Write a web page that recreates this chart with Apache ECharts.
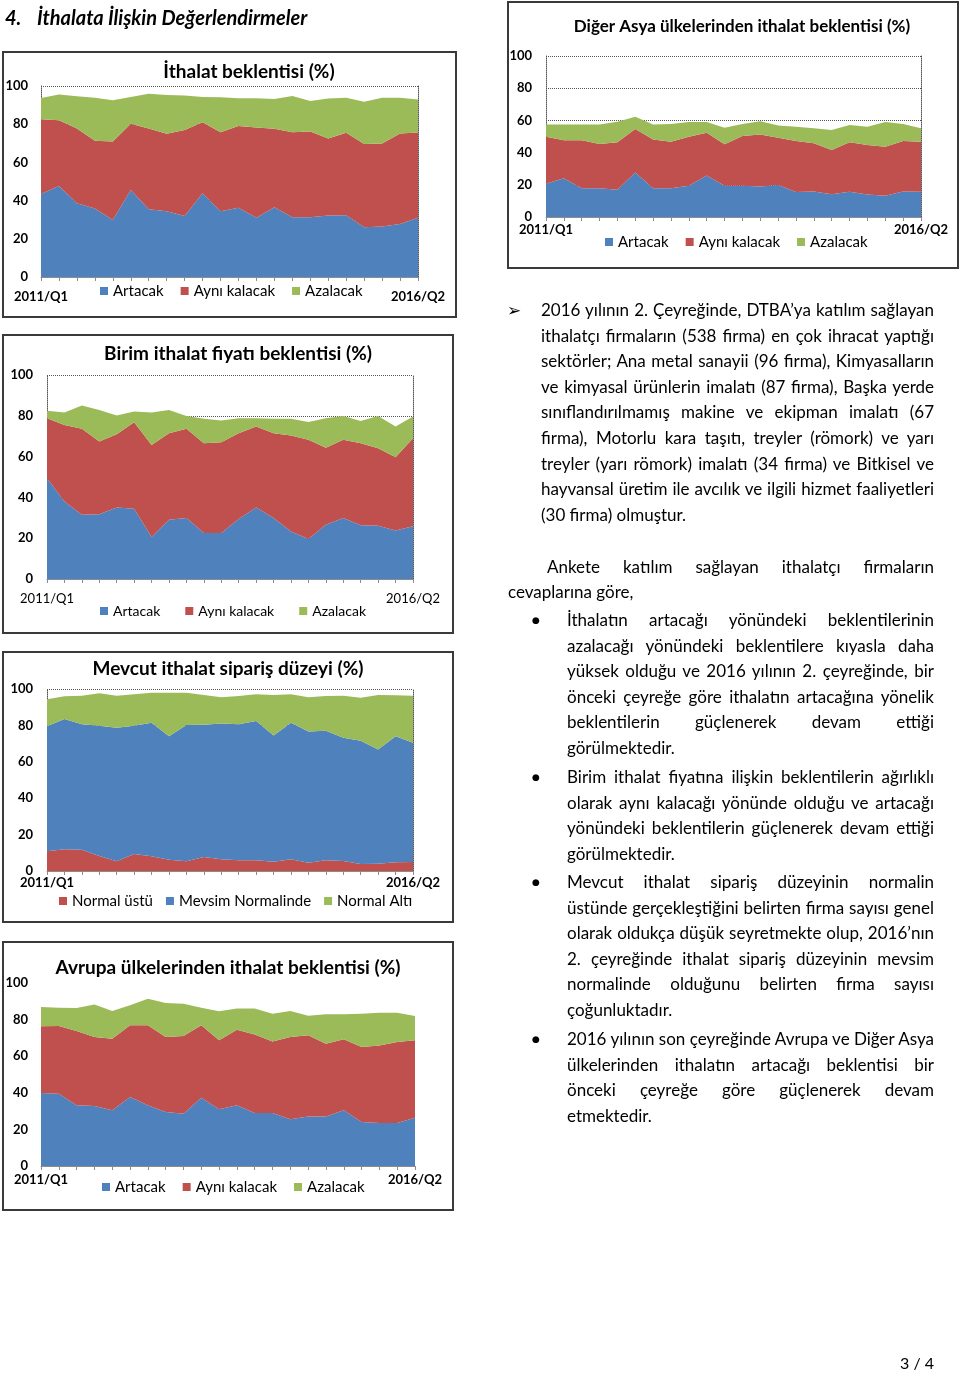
<!DOCTYPE html>
<html>
<head>
<meta charset="utf-8">
<script src="https://cdn.jsdelivr.net/npm/echarts/dist/echarts.min.js"></script>
<style>
  html, body { margin:0; padding:0; background:#fff; }
  #page { position:relative; width:960px; height:1373px; overflow:hidden; }
  #chart { position:absolute; left:0; top:0; width:960px; height:1373px; }
  .ln { position:absolute; height:26px; line-height:26px; white-space:nowrap;
        font-family: Lato, 'Open Sans', sans-serif; font-size:17px; color:#000; }
  .hd { position:absolute; white-space:nowrap; font-family: Lato, sans-serif;
        font-weight:bold; font-style:italic; font-size:20px; color:#000; line-height:22px; }
</style>
</head>
<body>
<div id="page">
  <div id="chart"></div>
</div>
<script>
// ---------------- DATA ----------------
const categories = ['2011/Q1','2011/Q2','2011/Q3','2011/Q4','2012/Q1','2012/Q2','2012/Q3','2012/Q4',
  '2013/Q1','2013/Q2','2013/Q3','2013/Q4','2014/Q1','2014/Q2','2014/Q3','2014/Q4',
  '2015/Q1','2015/Q2','2015/Q3','2015/Q4','2016/Q1','2016/Q2'];
const yTicks = [0, 20, 40, 60, 80, 100];

// İthalat beklentisi (%)
const ithalatArtacak  = [43.5,47.7,38.6,35.8,29.9,45.6,35.5,34.4,32.0,43.8,34.4,36.2,31.0,36.5,31.3,31.3,32.2,32.3,26.0,26.4,27.8,31.0];
const ithalatAyni     = [39.1,34.4,39.1,35.5,41.1,34.7,42.2,40.6,44.9,37.2,41.4,42.9,47.3,41.1,44.5,44.9,40.3,43.2,43.6,43.5,47.3,44.7];
const ithalatAzalacak = [11.1,13.4,16.9,22.6,21.5,14.0,18.3,20.3,18.1,13.3,18.3,14.5,15.3,15.6,19.0,16.0,20.9,18.4,22.1,24.0,18.8,17.2];

// Birim ithalat fiyatı beklentisi (%)
const fiyatArtacak  = [49.4,38.0,31.5,31.8,35.1,34.4,20.6,29.0,29.9,22.5,22.5,29.4,35.1,29.9,23.3,19.6,26.6,29.9,26.3,26.1,23.8,25.8];
const fiyatAyni     = [29.4,37.5,42.1,35.6,35.9,42.4,45.1,42.5,43.7,44.1,44.5,42.1,39.6,41.6,47.0,48.6,37.7,38.3,40.3,38.0,35.9,43.2];
const fiyatAzalacak = [3.7,6.1,11.4,15.5,9.1,5.3,15.9,11.4,6.3,11.9,10.7,7.3,4.1,7.0,8.2,8.8,14.5,11.7,10.9,15.8,15.0,10.6];

// Mevcut ithalat sipariş düzeyi (%)
const siparisNormalUstu = [10.8,11.9,11.7,8.3,5.3,9.4,8.1,6.2,5.3,7.7,6.4,5.9,5.9,5.1,6.4,4.6,5.9,5.5,3.9,4.0,4.8,5.0];
const siparisMevsim     = [68.8,71.6,69.0,71.5,73.4,70.4,73.4,67.9,74.9,72.7,74.7,74.7,76.5,69.4,75.1,72.1,71.2,67.7,67.7,62.8,69.3,65.5];
const siparisNormalAlti = [14.7,12.5,15.6,17.8,17.6,17.3,16.5,23.9,17.8,16.3,14.3,15.5,14.7,22.2,15.6,18.7,19.0,23.1,23.6,29.9,22.4,25.8];

// Avrupa ülkelerinden ithalat beklentisi (%)
const avrupaArtacak  = [39.9,39.5,33.2,32.8,30.4,37.7,33.2,29.5,28.6,37.3,31.0,33.2,29.0,29.0,25.5,27.1,27.1,30.4,24.0,23.5,23.5,26.4];
const avrupaAyni     = [36.4,37.0,40.6,37.7,39.2,39.2,43.7,41.0,42.4,39.6,37.7,41.3,42.9,39.1,45.0,44.3,39.7,38.8,41.0,42.3,44.3,42.3];
const avrupaAzalacak = [10.6,10.0,12.5,17.7,15.1,10.9,14.5,18.6,17.7,9.6,15.8,11.5,14.1,15.1,14.2,10.7,16.1,13.7,18.2,18.0,16.0,13.3];

// Diğer Asya ülkelerinden ithalat beklentisi (%)
const asyaArtacak  = [20.6,24.1,17.9,17.9,16.9,27.6,17.9,17.9,19.4,25.8,19.4,19.4,19.0,19.8,15.5,15.9,14.2,15.7,14.0,13.2,15.9,15.7];
const asyaAyni     = [29.3,23.5,29.7,27.5,29.5,27.0,30.3,28.9,30.5,26.6,25.8,30.9,32.3,29.5,31.7,29.9,27.4,30.7,30.7,30.5,31.3,31.1];
const asyaAzalacak = [7.6,9.9,9.9,12.1,12.8,7.7,9.3,10.9,9.1,6.6,10.3,7.4,8.1,7.6,8.9,9.3,12.4,10.7,11.4,15.3,10.5,8.3];

const names3 = ['Artacak', 'Aynı kalacak', 'Azalacak'];
const namesSiparis = ['Normal üstü', 'Mevsim Normalinde', 'Normal Altı'];

// ---------------- STYLE / LAYOUT ----------------
const BLUE = '#4F81BD', RED = '#C0504D', GREEN = '#9BBB59';
const FONT = 'Lato, "Open Sans", sans-serif';

const panels = [
  { title:'İthalat beklentisi (%)', tx:249, ty:72, ts:19, box:[3,52,453,265],
    grid:{left:41, top:86, width:377, height:191},
    names:names3, data:[ithalatArtacak, ithalatAyni, ithalatAzalacak], colors:[BLUE,RED,GREEN],
    xBold:true, xSize:13, xMargin:13, ySize:13, yMargin:13,
    legend:{left:100, cy:291, size:15, gap:17}, dotted:true },
  { title:'Birim ithalat fiyatı beklentisi (%)', tx:238, ty:354, ts:19, box:[3,335,450,298],
    grid:{left:47, top:375, width:366, height:204},
    names:names3, data:[fiyatArtacak, fiyatAyni, fiyatAzalacak], colors:[BLUE,RED,GREEN],
    xBold:false, xSize:13, xMargin:13, ySize:13, yMargin:14,
    legend:{left:100, cy:611, size:14, gap:25}, dotted:true },
  { title:'Mevcut ithalat sipariş düzeyi (%)', tx:228, ty:669, ts:19, box:[3,652,450,270],
    grid:{left:47, top:689, width:366, height:182},
    names:namesSiparis, data:[siparisNormalUstu, siparisMevsim, siparisNormalAlti], colors:[RED,BLUE,GREEN],
    xBold:true, xSize:13, xMargin:5, ySize:13, yMargin:14,
    legend:{left:59, cy:901, size:15, gap:13}, dotted:true },
  { title:'Avrupa ülkelerinden ithalat beklentisi (%)', tx:228, ty:968, ts:19, box:[3,942,450,268],
    grid:{left:41, top:983, width:374, height:183},
    names:names3, data:[avrupaArtacak, avrupaAyni, avrupaAzalacak], colors:[BLUE,RED,GREEN],
    xBold:true, xSize:13, xMargin:7, ySize:13, yMargin:13,
    legend:{left:102, cy:1187, size:15, gap:17}, dotted:false },
  { title:'Diğer Asya ülkelerinden ithalat beklentisi (%)', tx:742, ty:27, ts:17, box:[508,2,450,266],
    grid:{left:546, top:56, width:375, height:161},
    names:names3, data:[asyaArtacak, asyaAyni, asyaAzalacak], colors:[BLUE,RED,GREEN],
    xBold:true, xSize:13, xMargin:6, ySize:13, yMargin:14,
    legend:{left:605, cy:242, size:15, gap:17}, dotted:true }
];

const grids = [], xAxes = [], yAxes = [], series = [], legends = [], graphics = [];
const lastIdx = categories.length - 1;
const dotStyle = { color:'#555555', width:1, type:'dotted' };

panels.forEach((p, i) => {
  grids.push(Object.assign({ containLabel:false }, p.grid));
  xAxes.push({
    type:'category', gridIndex:i, data:categories, boundaryGap:false,
    axisLine:{ show:true, lineStyle:{ color:'#8c8c8c', width:1 } },
    axisTick:{ show:true, interval:0, length:4, lineStyle:{ color:'#8c8c8c' } },
    axisLabel:{ interval:(idx) => idx === 0 || idx === lastIdx, margin:p.xMargin,
      fontFamily:FONT, fontSize:p.xSize, fontWeight:p.xBold ? 'bold' : 'normal', color:'#000' },
    splitLine:{ show:false }, z:3
  });
  yAxes.push({
    type:'value', gridIndex:i, min:yTicks[0], max:yTicks[yTicks.length-1], interval:yTicks[1]-yTicks[0],
    axisLine:{ show:p.dotted, lineStyle:dotStyle },
    axisTick:{ show:false },
    axisLabel:{ margin:p.yMargin, fontFamily:FONT, fontSize:p.ySize, fontWeight:'bold', color:'#000' },
    splitLine:{ show:p.dotted, lineStyle:dotStyle }
  });
  yAxes.push({
    type:'value', gridIndex:i, position:'right', min:0, max:100, interval:20,
    axisLine:{ show:p.dotted, lineStyle:dotStyle },
    axisTick:{ show:false }, axisLabel:{ show:false }, splitLine:{ show:false }
  });
  p.names.forEach((nm, k) => {
    series.push({
      name:nm, type:'line', stack:'s'+i, xAxisIndex:i, yAxisIndex:2*i,
      data:p.data[k], symbol:'none', smooth:false,
      lineStyle:{ width:0, color:p.colors[k] }, itemStyle:{ color:p.colors[k] },
      areaStyle:{ color:p.colors[k], opacity:1 },
      emphasis:{ disabled:true }, silent:true, z:2
    });
  });
  legends.push({
    left:p.legend.left, top:p.legend.cy - p.legend.size/2, padding:0,
    orient:'horizontal', icon:'rect', itemWidth:8, itemHeight:8, itemGap:p.legend.gap,
    data:p.names, selectedMode:false,
    textStyle:{ fontFamily:FONT, fontSize:p.legend.size, color:'#000', padding:[0,0,0,0] }
  });
  graphics.push({
    type:'rect', shape:{ x:p.box[0], y:p.box[1], width:p.box[2], height:p.box[3] },
    style:{ fill:null, stroke:'#3a3a3a', lineWidth:2 }, z:100, silent:true
  });
  graphics.push({
    type:'text', x:p.tx, y:p.ty, silent:true, z:100,
    style:{ text:p.title, fill:'#000', font:'bold ' + p.ts + 'px ' + FONT,
      textAlign:'center', textVerticalAlign:'middle', align:'center', verticalAlign:'middle' }
  });
});

const chart = echarts.init(document.getElementById('chart'), null, { renderer:'canvas' });
chart.setOption({
  animation:false,
  backgroundColor:'#fff',
  grid:grids, xAxis:xAxes, yAxis:yAxes, series:series, legend:legends, graphic:graphics
});

// ---------------- PAGE TEXT ----------------
const page = document.getElementById('page');
function addLine(x, cy, w, text, extra) {
  const d = document.createElement('div');
  d.className = 'ln';
  d.style.left = x + 'px';
  d.style.top = (cy - 13) + 'px';
  const s = document.createElement('span');
  s.textContent = text;
  d.appendChild(s);
  if (extra) Object.assign(d.style, extra);
  page.appendChild(d);
  if (w) {
    const nat = s.getBoundingClientRect().width;
    const gaps = (text.match(/ /g) || []).length;
    if (gaps > 0) s.style.wordSpacing = ((w - nat) / gaps) + 'px';
  }
  return d;
}

// heading
const h1 = document.createElement('div'); h1.className = 'hd';
h1.style.left = '5px'; h1.style.top = '6px'; h1.textContent = '4.'; page.appendChild(h1);
const h2 = document.createElement('div'); h2.className = 'hd';
h2.style.left = '37px'; h2.style.top = '6px'; h2.textContent = 'İthalata İlişkin Değerlendirmeler'; page.appendChild(h2);

// paragraph 1
addLine(507, 310, 0, '➢', { fontFamily:'"DejaVu Sans", sans-serif', fontSize:'17px' });
const p1 = [
  ['2016 yılının 2. Çeyreğinde, DTBA’ya katılım sağlayan', true],
  ['ithalatçı firmaların (538 firma) en çok ihracat yaptığı', true],
  ['sektörler; Ana metal sanayii (96 firma), Kimyasalların', true],
  ['ve kimyasal ürünlerin imalatı (87 firma), Başka yerde', true],
  ['sınıflandırılmamış makine ve ekipman imalatı (67', true],
  ['firma), Motorlu kara taşıtı, treyler (römork) ve yarı', true],
  ['treyler (yarı römork) imalatı (34 firma) ve Bitkisel ve', true],
  ['hayvansal üretim ile avcılık ve ilgili hizmet faaliyetleri', true],
  ['(30 firma) olmuştur.', false]
];
p1.forEach((l, i) => addLine(541, 310 + i * 25.6, l[1] ? 393 : 0, l[0]));

// paragraph 2
addLine(547, 567, 387, 'Ankete katılım sağlayan ithalatçı firmaların');
addLine(508, 592, 0, 'cevaplarına göre,');

const bullets = [
  { y:620, lines:[
    ['İthalatın artacağı yönündeki beklentilerinin', true],
    ['azalacağı yönündeki beklentilere kıyasla daha', true],
    ['yüksek olduğu ve 2016 yılının 2. çeyreğinde, bir', true],
    ['önceki çeyreğe göre ithalatın artacağına yönelik', true],
    ['beklentilerin güçlenerek devam ettiği', true],
    ['görülmektedir.', false]]},
  { y:777, lines:[
    ['Birim ithalat fiyatına ilişkin beklentilerin ağırlıklı', true],
    ['olarak aynı kalacağı yönünde olduğu ve artacağı', true],
    ['yönündeki beklentilerin güçlenerek devam ettiği', true],
    ['görülmektedir.', false]]},
  { y:882, lines:[
    ['Mevcut ithalat sipariş düzeyinin normalin', true],
    ['üstünde gerçekleştiğini belirten firma sayısı genel', true],
    ['olarak oldukça düşük seyretmekte olup, 2016’nın', true],
    ['2. çeyreğinde ithalat sipariş düzeyinin mevsim', true],
    ['normalinde olduğunu belirten firma sayısı', true],
    ['çoğunluktadır.', false]]},
  { y:1039, lines:[
    ['2016 yılının son çeyreğinde Avrupa ve Diğer Asya', true],
    ['ülkelerinden ithalatın artacağı beklentisi bir', true],
    ['önceki çeyreğe göre güçlenerek devam', true],
    ['etmektedir.', false]]}
];
bullets.forEach(b => {
  addLine(532, b.y, 0, '●', { fontFamily:'"DejaVu Sans", sans-serif', fontSize:'9px' });
  b.lines.forEach((l, i) => addLine(567, b.y + i * 25.6, l[1] ? 367 : 0, l[0]));
});

// page number
addLine(900, 1363, 0, '3 / 4', { fontSize:'16px' });
</script>
</body>
</html>
